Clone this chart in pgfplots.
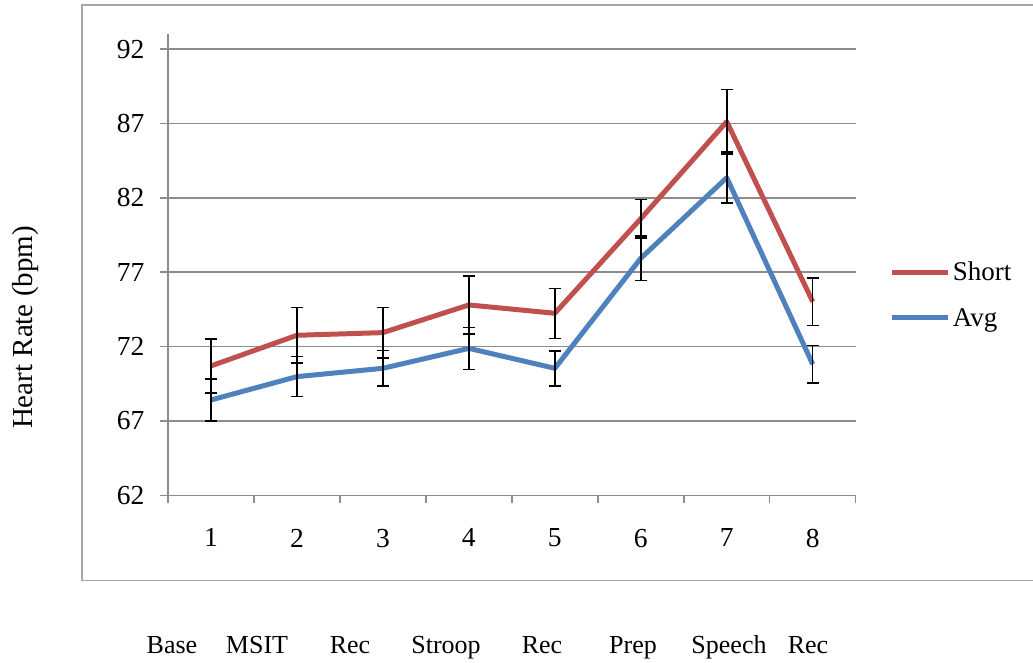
\documentclass[border=0pt]{standalone}
\usepackage{pgfplots}
\pgfplotsset{compat=1.18}
\usepackage{fontspec}
\setmainfont{Liberation Serif}
\definecolor{sred}{HTML}{C0504D}
\definecolor{sblue}{HTML}{4F81BD}
\definecolor{gridg}{HTML}{8C8C8C}
\definecolor{frameg}{HTML}{A6A6A6}
\pgfplotstableread{
x y e
1 70.70 1.82
2 72.76 1.86
3 72.94 1.70
4 74.80 1.95
5 74.24 1.68
6 80.60 1.30
7 87.13 2.17
8 75.02 1.59
}\shortdata
\pgfplotstableread{
x y e
1 68.41 1.41
2 69.98 1.35
3 70.54 1.19
4 71.88 1.41
5 70.54 1.18
6 77.94 1.48
7 83.36 1.72
8 70.81 1.27
}\avgdata
\begin{document}
\begin{tikzpicture}[x=1pt,y=1pt]
\useasboundingbox (0,0) rectangle (1033,662);
\draw[frameg, line width=1.5pt] (1033,657) -- (82,657) -- (82,81.3) -- (1033,81.3);
\begin{axis}[
  at={(168pt,166.7pt)}, anchor=south west,
  scale only axis, width=687.7pt, height=461pt,
  xmin=0.5, xmax=8.5, ymin=62, ymax=93,
  axis x line*=bottom, axis y line*=left,
  axis line style={gridg, line width=1.5pt, -},
  xtick={1,...,8},
  major x tick style={draw=none},
  minor xtick={0.5,1.5,...,8.5},
  ytick={62,67,...,92},
  tick align=outside, major tick length=8pt, minor tick length=8pt,
  tick style={gridg, line width=1.5pt},
  ymajorgrids, grid style={gridg, line width=1.5pt},
  /pgf/number format/assume math mode=true,
  ticklabel style={font=\fontsize{27.5}{32}\selectfont},
  yticklabel style={xshift=-12pt},
  xticklabel style={yshift=-22pt},
  legend style={at={(1.045,0.435)}, anchor=west, draw=none, fill=none,
    font=\fontsize{27}{32}\selectfont, row sep=22pt},
  legend cell align=left,
  legend image code/.code={\draw[#1, line width=5pt] (0pt,0pt) -- (56pt,0pt);},
  error bars/y dir=both, error bars/y explicit,
  error bars/error bar style={black, line width=1.5pt},
  error bars/error mark options={rotate=90, mark size=6pt, black, line width=1.5pt},
]
\addplot[sred, line width=5pt, line join=round] table[x=x, y=y, y error=e] {\shortdata};
\addlegendentry{Short}
\addplot[sblue, line width=5pt, line join=round] table[x=x, y=y, y error=e] {\avgdata};
\addlegendentry{Avg}
\end{axis}
\node[rotate=90, font=\fontsize{29}{34}\selectfont] at (26,334.5) {Heart Rate (bpm)};
\begin{scope}[every node/.style={font=\fontsize{26}{30}\selectfont, anchor=base}]
\node at (172,9) {Base};
\node at (257,9) {MSIT};
\node at (350,9) {Rec};
\node at (446,9) {Stroop};
\node at (542,9) {Rec};
\node at (633,9) {Prep};
\node at (729,9) {Speech};
\node at (808,9) {Rec};
\end{scope}
\end{tikzpicture}
\end{document}
